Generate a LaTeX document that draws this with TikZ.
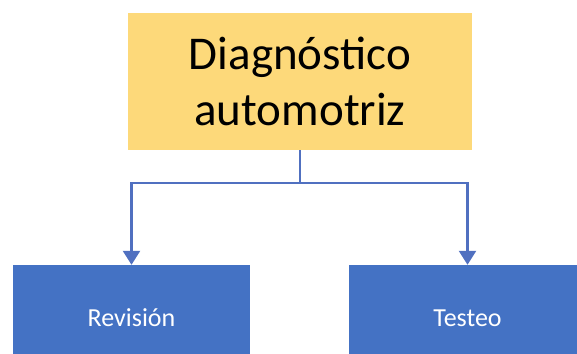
\documentclass[tikz,border=0pt]{standalone}
\usepackage{fontspec}
\setmainfont{Carlito}
\usepackage{xcolor}
\usetikzlibrary{arrows.meta}

\definecolor{goldbox}{HTML}{FDD97A}
\definecolor{bluebox}{HTML}{4472C4}
\definecolor{bluelink}{HTML}{5070C0}

\begin{document}
\begin{tikzpicture}[x=1pt, y=1pt,
  mainbox/.style={fill=goldbox, text=black, minimum width=344pt, minimum height=137pt,
    align=center, inner sep=0pt, font=\fontsize{47pt}{56pt}\selectfont},
  subbox/.style={fill=bluebox, text=white, minimum width=237pt, minimum height=106pt,
    inner sep=0pt, font=\fontsize{26pt}{31pt}\selectfont},
  link/.style={draw=bluelink, line width=2.5pt},
  tip/.style={link, -{Triangle[width=17pt, length=14pt]}}]
  \useasboundingbox (0,0) rectangle (577,353);
  \clip (0,0) rectangle (577,353);
  \node[mainbox] (diag) at (300,271.5) {Diagnóstico\\automotriz};
  \node[subbox] (rev) at (131.5,35) {Revisión};
  \node[subbox] (test) at (467.5,35) {Testeo};
  \coordinate (split) at (300,170);
  \draw[link] (diag.south) -- (split);
  \draw[tip] (split) -| (rev.north);
  \draw[tip] (split) -| (test.north);
\end{tikzpicture}
\end{document}
